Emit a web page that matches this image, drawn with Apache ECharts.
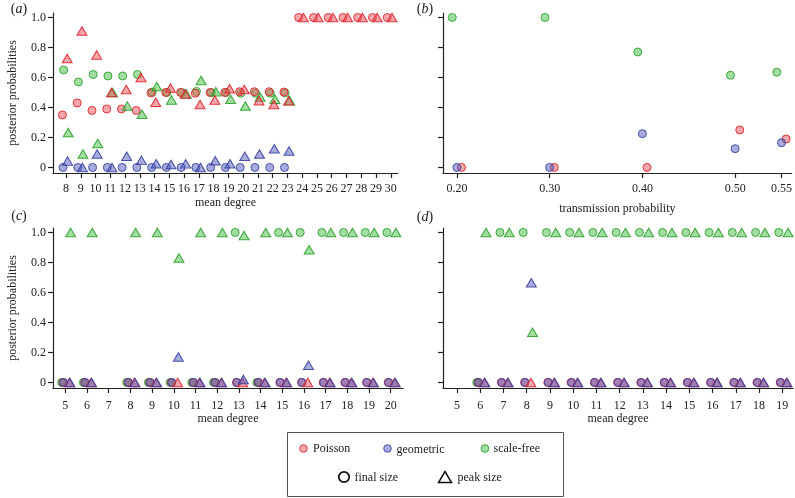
<!DOCTYPE html>
<html>
<head>
<meta charset="utf-8">
<script src="https://cdn.jsdelivr.net/npm/echarts@6/dist/echarts.min.js"></script>
<style>html,body{margin:0;padding:0;background:#fff;}#c{width:795px;height:498px;}</style>
</head>
<body>
<div id="c"></div>
<script>
// ---------- data ----------
// panel (a): mean degree 8..30
var aDegree = [8,9,10,11,12,13,14,15,16,17,18,19,20,21,22,23,24,25,26,27,28,29,30];
var aPoissonFinal   = [0.35,0.43,0.38,0.39,0.39,0.38,0.497,0.5,0.5,0.495,0.5,0.5,0.505,0.505,0.505,0.503,1,1,1,1,1,1,1];
var aGeometricFinal = [0,0,0,0,0,0,0,0,0,0,0,0,0,0,0,0,null,null,null,null,null,null,null];
var aScaleFreeFinal = [0.65,0.57,0.62,0.61,0.61,0.62,0.503,0.5,0.5,0.507,0.5,0.5,0.495,0.495,0.495,0.497,null,null,null,null,null,null,null];
var aPoissonPeak    = [0.727,0.91,0.75,0.5,0.52,0.6,0.435,0.53,0.49,0.42,0.45,0.525,0.52,0.445,0.42,0.445,1,1,1,1,1,1,1];
var aGeometricPeak  = [0.042,0,0.09,0,0.075,0.047,0.025,0.02,0.024,0,0.045,0.025,0.075,0.09,0.125,0.11,null,null,null,null,null,null,null];
var aScaleFreePeak  = [0.233,0.09,0.16,0.5,0.41,0.355,0.54,0.45,0.49,0.58,0.505,0.455,0.41,0.47,0.455,0.445,null,null,null,null,null,null,null];

// panel (b): transmission probability
var bTransmission = [0.20,0.30,0.40,0.50,0.55];
var bTickLabels   = [0.20,0.30,0.40,0.50,0.55];
var bPoisson      = [0,0,0,0.25,0.19];
var bGeometric    = [0,0,0.225,0.125,0.165];
var bScaleFree    = [1,1,0.77,0.615,0.635];

// panel (c): mean degree 5..20 (7 missing)
var cDegree = [5,6,8,9,10,11,12,13,14,15,16,17,18,19,20];
var cTicks  = [5,6,7,8,9,10,11,12,13,14,15,16,17,18,19,20];
var cPoissonFinal   = [0,0,0,0,0,0,0,0,0,0,0,0,0,0,0];
var cGeometricFinal = [0,0,0,0,0,0,0,0,0,0,0,0,0,0,0];
var cScaleFreeFinal = [0,0,0,0,0,0,0,1,0,1,1,1,1,1,1];
var cPoissonPeak    = [0,0,0,0,0,0,0,0,0,0,0,0,0,0,0];
var cGeometricPeak  = [0,0,0,0,0.17,0,0,0.02,0,0,0.115,0,0,0,0];
var cScaleFreePeak  = [1,1,1,1,0.83,1,1,0.98,1,1,0.885,1,1,1,1];

// panel (d): mean degree 6..19
var dDegree = [6,7,8,9,10,11,12,13,14,15,16,17,18,19];
var dTicks  = [5,6,7,8,9,10,11,12,13,14,15,16,17,18,19];
var dPoissonFinal   = [0,0,0,0,0,0,0,0,0,0,0,0,0,0];
var dGeometricFinal = [0,0,0,0,0,0,0,0,0,0,0,0,0,0];
var dScaleFreeFinal = [0,1,1,1,1,1,1,1,1,1,1,1,1,1];
var dPoissonPeak    = [0,0,0,0,0,0,0,0,0,0,0,0,0,0];
var dGeometricPeak  = [0,0,0.665,0,0,0,0,0,0,0,0,0,0,0];
var dScaleFreePeak  = [1,1,0.335,1,1,1,1,1,1,1,1,1,1,1];

var yTicks = [0,0.2,0.4,0.6,0.8,1.0];

// ---------- style ----------
var FONT = 'Liberation Serif';
var TXT = '#222';
var COL = {
  Poisson:   {fill:'rgba(238,80,88,0.5)',  stroke:'rgba(222,35,45,0.9)'},
  geometric: {fill:'rgba(80,90,185,0.5)',  stroke:'rgba(55,65,160,0.9)'},
  scalefree: {fill:'rgba(70,190,70,0.5)',  stroke:'rgba(45,160,45,0.9)'}
};
var CIRC = 8, TRI = [10, 8.5];

function pts(xs, ys, off) {
  var out = [];
  for (var i = 0; i < xs.length; i++) if (ys[i] !== null) out.push([xs[i] + off, ys[i]]);
  return out;
}
function ser(idx, key, xs, ys, off, tri) {
  return {
    type:'scatter', xAxisIndex:idx, yAxisIndex:idx,
    symbol: tri ? 'triangle' : 'circle',
    symbolSize: tri ? TRI : CIRC,
    data: pts(xs, ys, off),
    itemStyle:{color:COL[key].fill, borderColor:COL[key].stroke, borderWidth:1, opacity:1},
    emphasis:{disabled:true}, silent:true, animation:false
  };
}
var axLine = {onZero:false, lineStyle:{color:TXT, width:1.2}};
var lab = {fontFamily:FONT, fontSize:12, color:TXT};

function xAx(idx, min, max, ticks, name, gap, margin, fmt) {
  return {
    gridIndex:idx, type:'value', min:min, max:max,
    axisLine:axLine,
    axisTick:{customValues:ticks, length:5, lineStyle:{color:TXT, width:1.2}},
    axisLabel:Object.assign({customValues:ticks, margin:margin, formatter:fmt || function(v){return String(v);}}, lab),
    splitLine:{show:false},
    name:name, nameLocation:'middle', nameGap:gap, nameTextStyle:lab
  };
}
function yAx(idx, showLabels) {
  return {
    gridIndex:idx, type:'value', min:-0.037, max:1.03,
    axisLine:axLine,
    axisTick:{customValues:yTicks, length:5, lineStyle:{color:TXT, width:1.2}},
    axisLabel:Object.assign({show:showLabels, customValues:yTicks, margin:7,
      formatter:function(v){return v === 0 ? '0' : v.toFixed(1);}}, lab),
    splitLine:{show:false},
    name: showLabels ? 'posterior probabilities' : '',
    nameLocation:'middle', nameGap:34, nameTextStyle:lab
  };
}

var series = [];
// (a)
series.push(ser(0,'scalefree',aDegree,aScaleFreeFinal,-0.16,false));
series.push(ser(0,'Poisson',aDegree,aPoissonFinal,-0.24,false));
series.push(ser(0,'geometric',aDegree,aGeometricFinal,-0.2,false));
series.push(ser(0,'scalefree',aDegree,aScaleFreePeak,0.15,true));
series.push(ser(0,'Poisson',aDegree,aPoissonPeak,0.08,true));
series.push(ser(0,'geometric',aDegree,aGeometricPeak,0.11,true));
// (b)
series.push(ser(1,'scalefree',bTransmission,bScaleFree,-0.005,false));
series.push(ser(1,'Poisson',bTransmission,bPoisson,0.005,false));
series.push(ser(1,'geometric',bTransmission,bGeometric,0,false));
// (c)
series.push(ser(2,'scalefree',cDegree,cScaleFreeFinal,-0.17,false));
series.push(ser(2,'Poisson',cDegree,cPoissonFinal,-0.11,false));
series.push(ser(2,'geometric',cDegree,cGeometricFinal,-0.09,false));
series.push(ser(2,'scalefree',cDegree,cScaleFreePeak,0.24,true));
series.push(ser(2,'Poisson',cDegree,cPoissonPeak,0.18,true));
series.push(ser(2,'geometric',cDegree,cGeometricPeak,0.21,true));
// (d)
series.push(ser(3,'scalefree',dDegree,dScaleFreeFinal,-0.15,false));
series.push(ser(3,'Poisson',dDegree,dPoissonFinal,-0.09,false));
series.push(ser(3,'geometric',dDegree,dGeometricFinal,-0.07,false));
series.push(ser(3,'scalefree',dDegree,dScaleFreePeak,0.25,true));
series.push(ser(3,'Poisson',dDegree,dPoissonPeak,0.18,true));
series.push(ser(3,'geometric',dDegree,dGeometricPeak,0.2,true));

function panelLabel(letter, x, y) {
  return {type:'text', x:x, y:y, silent:true,
    style:{text:'{n|(}{i|' + letter + '}{n|)}', align:'center', verticalAlign:'middle',
      rich:{n:{fontFamily:FONT, fontSize:14, fill:TXT}, i:{fontFamily:FONT, fontSize:14, fontStyle:'italic', fill:TXT}}}};
}
function legText(t, x, y) {
  return {type:'text', x:x, y:y, silent:true,
    style:{text:t, fontFamily:FONT, fontSize:12, fill:TXT, align:'left', verticalAlign:'middle'}};
}
function legDot(key, x, y) {
  return {type:'circle', silent:true, shape:{cx:x, cy:y, r:3.8},
    style:{fill:COL[key].fill, stroke:COL[key].stroke, lineWidth:1}};
}

var option = {
  backgroundColor:'#fff',
  animation:false,
  grid:[
    {left:53, top:13, width:345, height:160},
    {left:443, top:13, width:350, height:160},
    {left:53, top:228, width:350, height:160},
    {left:443, top:228, width:350, height:160}
  ],
  xAxis:[
    xAx(0, 7.12, 30.49, aDegree, 'mean degree', 24, 10),
    xAx(1, 0.185, 0.561, bTickLabels, 'transmission probability', 30, 10, function(v){return v.toFixed(2);}),
    xAx(2, 4.43, 20.57, cTicks, 'mean degree', 22, 12),
    xAx(3, 4.40, 19.46, dTicks, 'mean degree', 25, 12)
  ],
  yAxis:[ yAx(0,true), yAx(1,false), yAx(2,true), yAx(3,false) ],
  series:series,
  graphic:[
    panelLabel('a', 19, 9),
    panelLabel('b', 425, 9),
    panelLabel('c', 19, 216),
    panelLabel('d', 425, 217),
    {type:'rect', silent:true, shape:{x:287.5, y:432.5, width:276, height:64},
      style:{fill:'none', stroke:'#555', lineWidth:1}},
    legDot('Poisson', 303.5, 448.5), legText('Poisson', 313, 448.5),
    legDot('geometric', 387.5, 448.5), legText('geometric', 396.5, 449.5),
    legDot('scalefree', 485, 448.5), legText('scale-free', 493.5, 448.5),
    {type:'circle', silent:true, shape:{cx:344, cy:477, r:5.2},
      style:{fill:'none', stroke:'#111', lineWidth:1.8}},
    legText('final size', 354.5, 477.5),
    {type:'polygon', silent:true, shape:{points:[[438.5,482.5],[451.5,482.5],[445,471.5]]},
      style:{fill:'none', stroke:'#111', lineWidth:1.5}},
    legText('peak size', 457.5, 477.5)
  ]
};
var chart = echarts.init(document.getElementById('c'), null, {renderer:'canvas'});
chart.setOption(option);
</script>
</body>
</html>
